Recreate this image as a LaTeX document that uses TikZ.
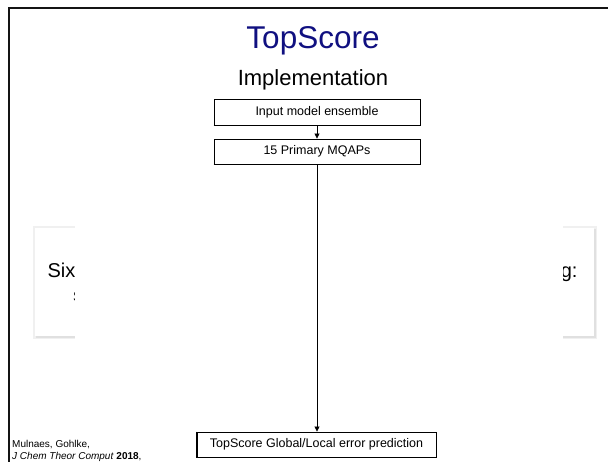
\documentclass[tikz,border=0pt]{standalone}
\usepackage{fontspec}
\setmainfont{Liberation Sans}
\usetikzlibrary{arrows.meta}
\definecolor{titleblue}{RGB}{16,16,128}
\definecolor{frameline}{RGB}{20,20,20}
\tikzset{
  flowbox/.style={draw=black, line width=0.9pt, fill=white, inner sep=0pt, font=\fontsize{12.5}{14}\selectfont},
  flowarrow/.style={draw=black, line width=0.8pt, -{Triangle[length=5pt,width=5pt]}},
  framestroke/.style={draw=frameline, line width=2.2pt},
}
\begin{document}
\begin{tikzpicture}[x=1pt,y=-1pt]
\useasboundingbox (0,0) rectangle (608,462);
\fill[white] (0,0) rectangle (608,462);
% slide frame
\draw[framestroke] (608,8) -- (9,8) -- (9,462);
% title
\node[anchor=base, text=titleblue, font=\fontsize{31.5}{34}\selectfont] (title) at (313,49) {TopScore};
\node[anchor=base, font=\fontsize{22}{25}\selectfont] (sub) at (313,86) {Implementation};
% background card with shadow
\fill[black!6] (33,226) rectangle (597,339);
\fill[black!12] (36,229) rectangle (596,338);
\fill[white] (35,228) rectangle (594,336);
\node[anchor=base west, font=\fontsize{20}{24}\selectfont] (six) at (44,278) {Six};
\node[anchor=base east, font=\fontsize{20}{24}\selectfont] (gcol) at (581,278) {g:};
\begin{scope}
\clip (70,285) rectangle (75,305);
\node[anchor=base west, inner sep=0pt, font=\fontsize{14}{16}\selectfont] (frag) at (73,302) {S};
\end{scope}
% white overlay (figure image)
\fill[white] (75,215) rectangle (563,350);
% flowchart
\node[flowbox, minimum width=206pt, minimum height=26pt] (b1) at (317,112) {Input model ensemble};
\node[flowbox, minimum width=206pt, minimum height=25pt] (b2) at (317,151.5) {15 Primary MQAPs};
\node[flowbox, minimum width=239pt, minimum height=25pt] (b3) at (316.5,444.5) {TopScore Global/Local error prediction};
\draw[black, line width=1.6pt] (b1.south west) -- (b1.south east);
\draw[black, line width=1.6pt] (b2.south west) -- (b2.south east);
\draw[black, line width=1.8pt] (b3.north west) -- (b3.south west) -- (b3.south east);
\draw[flowarrow] (b1.south) -- (b2.north);
\draw[flowarrow] (b2.south) -- (b2.south |- b3.north);
% citation
\node[anchor=base west, inner sep=0pt, font=\fontsize{10}{12}\selectfont] (cite1) at (12,447) {Mulnaes, Gohlke,};
\node[anchor=base west, inner sep=0pt, font=\fontsize{10}{12}\selectfont] (cite2) at (12,459) {\textit{J Chem Theor Comput} \textbf{2018},};
\end{tikzpicture}
\end{document}
